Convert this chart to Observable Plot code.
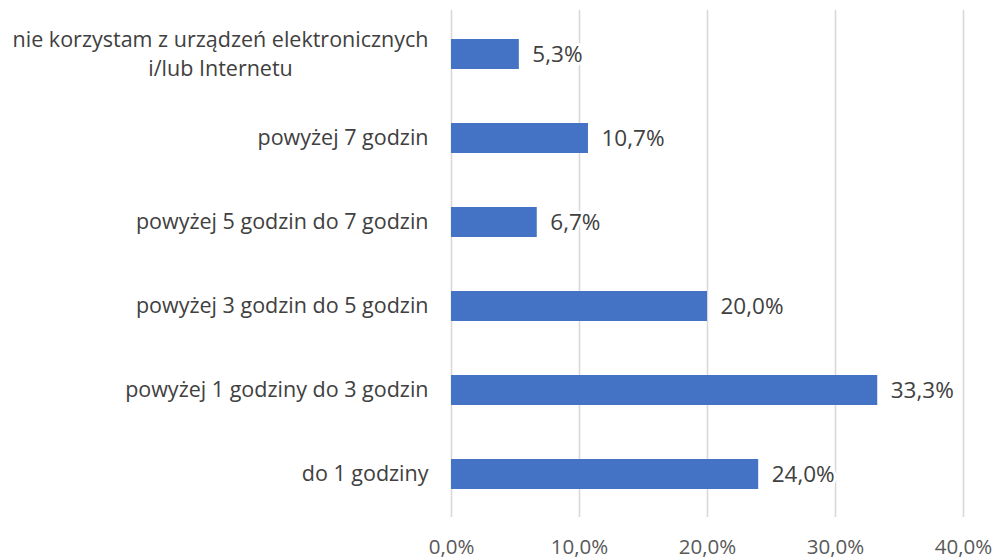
<!DOCTYPE html>
<html>
<head>
<meta charset="utf-8">
<script src="https://cdn.jsdelivr.net/npm/d3@7"></script>
<script src="https://cdn.jsdelivr.net/npm/@observablehq/plot@0.6"></script>
<style>
  html, body { margin: 0; padding: 0; background: #fff; }
</style>
</head>
<body>
<div id="chart"></div>
<script>
const categories = [
  "nie korzystam z urządzeń elektronicznych\ni/lub Internetu",
  "powyżej 7 godzin",
  "powyżej 5 godzin do 7 godzin",
  "powyżej 3 godzin do 5 godzin",
  "powyżej 1 godziny do 3 godzin",
  "do 1 godziny"
];
const values = [5.3, 10.7, 6.7, 20.0, 33.3, 24.0];
const xTicks = [0, 10, 20, 30, 40];

const FONT = "'Open Sans', sans-serif";
const catSize = 21.5, valSize = 22.5, tickSize = 20.5;
const fmt = v => v.toFixed(1).replace(".", ",") + "%";
const rows = categories.map((c, i) => ({category: c, value: values[i]}));

// measure label widths so multi-line labels are centred as a block, right-aligned to the axis
const ctx = document.createElement("canvas").getContext("2d");
ctx.font = `${catSize}px 'Open Sans'`;
const lineH = 29;
const labelLines = [];
categories.forEach(c => {
  const parts = c.split("\n");
  const maxW = Math.max(...parts.map(p => ctx.measureText(p).width));
  parts.forEach((p, j) => labelLines.push({
    category: c, line: p, maxW,
    off: (j - (parts.length - 1) / 2) * lineH
  }));
});

const chart = Plot.plot({
  width: 997,
  height: 560,
  marginLeft: 451,
  marginRight: 34,
  marginTop: 10,
  marginBottom: 43,
  style: {fontFamily: FONT, fontSize: "20px", color: "#404040", background: "#fff"},
  x: {domain: [0, 40], ticks: xTicks, label: null},
  y: {domain: categories, padding: 0, label: null, axis: null},
  marks: [
    Plot.ruleX(xTicks, {stroke: "#d9d9d9", strokeWidth: 1.6}),
    Plot.barX(rows, {x: "value", y: "category", fill: "#4472c4", insetTop: 27, insetBottom: 27}),
    Plot.text(rows, {x: "value", y: "category", text: d => fmt(d.value), textAnchor: "start", dx: 13, fill: "#404040", stroke: "white", strokeWidth: 6, paintOrder: "stroke", fontSize: valSize}),
    ...labelLines.map(l => Plot.text([l], {
      x: 0, y: "category", text: "line", textAnchor: "middle",
      dx: -23 - l.maxW / 2, dy: l.off, fill: "#404040", fontSize: catSize
    })),
    Plot.axisX({ticks: xTicks, tickSize: 0, tickPadding: 22, tickFormat: fmt, fill: "#595959", fontSize: tickSize, label: null})
  ]
});
document.getElementById("chart").appendChild(chart);
</script>
</body>
</html>
